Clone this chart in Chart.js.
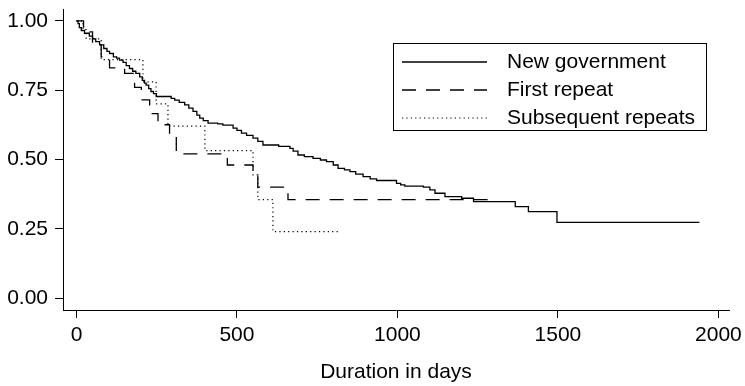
<!DOCTYPE html>
<html>
<head>
<meta charset="utf-8">
<script src="https://cdn.jsdelivr.net/npm/chart.js@4.4.1/dist/chart.umd.min.js"></script>
<style>
  html, body { margin: 0; padding: 0; background: #fff; }
</style>
</head>
<body>
<canvas id="km" width="745" height="386"></canvas>
<script>
// ---- datos: curvas de Kaplan-Meier (día, supervivencia) ----
const X_TICKS = [0, 500, 1000, 1500, 2000];
const Y_TICKS = [0, 0.25, 0.5, 0.75, 1];

const SERIES_LABELS = ['New government', 'First repeat', 'Subsequent repeats'];

const newGovDays = [0, 5, 9, 15, 25, 40, 50, 60, 72, 85, 95, 103, 115, 125, 134, 145, 155, 165, 175, 185,
  197, 205, 212, 217, 225, 232, 240, 249, 295, 306, 320, 337, 350, 363, 375, 384, 395, 410, 440, 456,
  488, 500, 514, 530, 550, 565, 581, 630, 665, 675, 690, 710, 737, 760, 779, 800, 815, 835, 852, 870,
  893, 915, 935, 997, 1010, 1023, 1081, 1101, 1117, 1148, 1200, 1237, 1367, 1408, 1497, 1941];
const newGovSurv = [1.0, 0.99, 0.975, 0.965, 0.955, 0.945, 0.935, 0.925, 0.913, 0.9, 0.89, 0.882, 0.87, 0.865, 0.858, 0.85, 0.838, 0.828, 0.818, 0.81,
  0.798, 0.785, 0.775, 0.768, 0.755, 0.745, 0.737, 0.727, 0.72, 0.714, 0.706, 0.697, 0.685, 0.673, 0.66, 0.649, 0.64, 0.631, 0.628, 0.624,
  0.613, 0.605, 0.595, 0.587, 0.577, 0.565, 0.552, 0.547, 0.54, 0.53, 0.516, 0.51, 0.504, 0.498, 0.492, 0.48, 0.468, 0.462, 0.456, 0.447,
  0.438, 0.43, 0.424, 0.414, 0.408, 0.404, 0.4, 0.39, 0.378, 0.366, 0.36, 0.348, 0.33, 0.312, 0.273, 0.273];

const firstDays = [0, 22, 50, 77, 103, 150, 181, 202, 228, 254, 290, 311, 470, 550, 565, 659, 1305];
const firstSurv = [1.0, 0.96, 0.92, 0.87, 0.83, 0.81, 0.76, 0.715, 0.665, 0.625, 0.585, 0.52, 0.48, 0.44, 0.40, 0.355, 0.355];

const subDays = [0, 20, 30, 77, 207, 248, 285, 400, 550, 565, 612, 815];
const subSurv = [1.0, 0.968, 0.935, 0.86, 0.78, 0.70, 0.62, 0.532, 0.444, 0.355, 0.24, 0.24];

// ---- estilo ----
const FONT = '"Liberation Sans", Arial, Helvetica, sans-serif';
const TXT = 21;
const NEGRO = '#000';

function puntos(days, surv) {
  return days.map((d, i) => ({ x: d, y: surv[i] }));
}

function serie(label, data, dash, width) {
  return {
    label,
    data,
    borderColor: NEGRO,
    borderWidth: width,
    borderDash: dash,
    borderCapStyle: 'butt',
    stepped: 'before',
    pointRadius: 0,
    fill: false
  };
}

// sin márgenes extra por las etiquetas de los extremos
function sinPadding(s) {
  s.paddingTop = 0;
  s.paddingBottom = 0;
  s.paddingLeft = 0;
  s.paddingRight = 0;
}

// leyenda con marco, dentro del área del gráfico
const leyendaMarco = {
  id: 'leyendaMarco',
  afterDraw(chart) {
    const ctx = chart.ctx;
    const bx = 393.5, by = 43.5, bw = 313, bh = 87;
    ctx.save();
    ctx.strokeStyle = NEGRO;
    ctx.lineWidth = 1;
    ctx.setLineDash([]);
    ctx.strokeRect(bx, by, bw, bh);
    chart.data.datasets.forEach((ds, i) => {
      const y = 62 + i * 28;
      ctx.setLineDash(ds.borderDash || []);
      ctx.lineWidth = ds.borderWidth;
      ctx.lineCap = 'butt';
      ctx.beginPath();
      ctx.moveTo(402, y);
      ctx.lineTo(487, y);
      ctx.stroke();
      ctx.setLineDash([]);
      ctx.fillStyle = NEGRO;
      ctx.font = TXT + 'px ' + FONT;
      ctx.textBaseline = 'middle';
      ctx.textAlign = 'left';
      ctx.fillText(ds.label, 507, y);
    });
    ctx.restore();
  }
};

new Chart(document.getElementById('km'), {
  type: 'line',
  data: {
    datasets: [
      serie(SERIES_LABELS[0], puntos(newGovDays, newGovSurv), [], 1.3),
      serie(SERIES_LABELS[1], puntos(firstDays, firstSurv), [14, 10], 1.3),
      serie(SERIES_LABELS[2], puntos(subDays, subSurv), [1.2, 3.2], 1.2)
    ]
  },
  options: {
    responsive: false,
    animation: false,
    devicePixelRatio: 1,
    layout: { padding: { top: 9, right: 16, left: 0, bottom: 0 } },
    plugins: {
      legend: { display: false },
      tooltip: { enabled: false }
    },
    scales: {
      x: {
        type: 'linear',
        min: -42,
        max: 2033,
        afterBuildTicks: s => { s.ticks = X_TICKS.map(v => ({ value: v })); },
        afterFit: s => { s.height = 76; sinPadding(s); },
        grid: { drawOnChartArea: false, drawTicks: true, tickLength: 8, color: NEGRO, lineWidth: 1 },
        border: { display: true, color: NEGRO, width: 1 },
        ticks: { color: NEGRO, padding: 5, maxRotation: 0, font: { family: FONT, size: TXT }, callback: v => String(v) },
        title: { display: true, text: 'Duration in days', color: NEGRO, font: { family: FONT, size: TXT }, padding: { top: 0, bottom: 1 } }
      },
      y: {
        type: 'linear',
        min: -0.043,
        max: 1.0425,
        afterBuildTicks: s => { s.ticks = Y_TICKS.map(v => ({ value: v })); },
        afterFit: s => { s.width = 63; sinPadding(s); },
        grid: { drawOnChartArea: false, drawTicks: true, tickLength: 8, color: NEGRO, lineWidth: 1 },
        border: { display: true, color: NEGRO, width: 1 },
        ticks: { color: NEGRO, padding: 7, font: { family: FONT, size: TXT }, callback: v => v.toFixed(2) }
      }
    }
  },
  plugins: [leyendaMarco]
});
</script>
</body>
</html>
